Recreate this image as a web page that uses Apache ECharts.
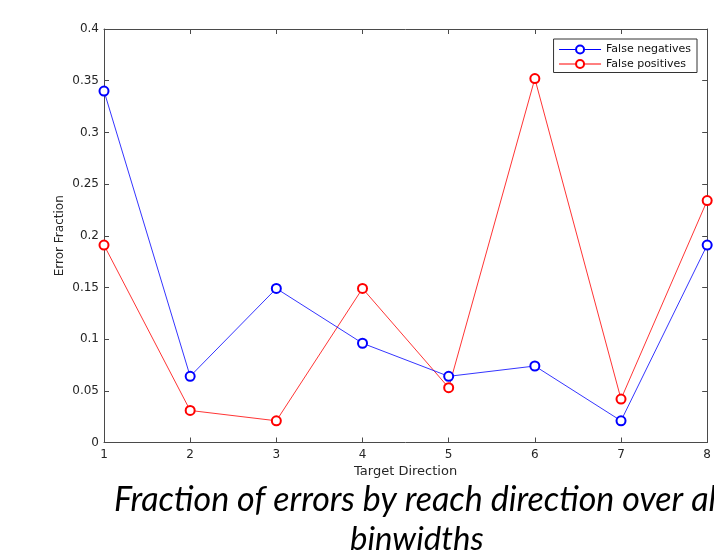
<!DOCTYPE html>
<html>
<head>
<meta charset="utf-8">
<script src="https://cdn.jsdelivr.net/npm/echarts@6/dist/echarts.min.js"></script>
<style>
  html, body { margin: 0; padding: 0; background: #fff; }
  #main { width: 714px; height: 554px; }
</style>
</head>
<body>
<div id="main"></div>
<script>
// target directions
const directions = [1, 2, 3, 4, 5, 6, 7, 8]
// error fractions
const falseNegatives = [0.340, 0.064, 0.149, 0.096, 0.064, 0.074, 0.021, 0.191]
const falsePositives = [0.191, 0.031, 0.021, 0.149, 0.053, 0.352, 0.042, 0.234]
const yTicks = [0, 0.05, 0.1, 0.15, 0.2, 0.25, 0.3, 0.35, 0.4]

const chart = echarts.init(document.getElementById('main'), null, { renderer: 'canvas' })

const axisColor = '#4a4a4a'
const labelColor = '#262626'
const font = 'DejaVu Sans'

const pairs = (vals) => directions.map((d, i) => [d, vals[i]])

// bottom/left axes carry labels, top/right only ticks (box look)
const option = {
  backgroundColor: '#ffffff',
  animation: false,
  grid: { left: 104, top: 29, width: 607, height: 413.5, containLabel: false },
  xAxis: [{
    type: 'value', min: 1, max: 8, interval: 1,
    name: 'Target Direction', nameLocation: 'middle', nameGap: 21,
    nameTextStyle: { fontFamily: font, fontSize: 13, color: labelColor },
    axisLine: { show: true, lineStyle: { color: axisColor, width: 1 } },
    axisTick: { show: true, inside: true, length: 5, lineStyle: { color: axisColor } },
    axisLabel: { fontFamily: font, fontSize: 12, color: labelColor, margin: 6 },
    splitLine: { show: false }
  }, {
    type: 'value', min: 1, max: 8, interval: 1, position: 'top',
    axisLine: { show: true, onZero: false, lineStyle: { color: axisColor, width: 1 } },
    axisTick: { show: true, inside: true, length: 5, lineStyle: { color: axisColor } },
    axisLabel: { show: false },
    splitLine: { show: false }
  }],
  yAxis: [{
    type: 'value', min: 0, max: 0.4, interval: 0.05,
    name: 'Error Fraction', nameLocation: 'middle', nameGap: 38, nameRotate: 90,
    nameMoveOverlap: false,
    nameTextStyle: { fontFamily: font, fontSize: 12, color: labelColor },
    axisLine: { show: true, lineStyle: { color: axisColor, width: 1 } },
    axisTick: { show: true, inside: true, length: 5, lineStyle: { color: axisColor } },
    axisLabel: { fontFamily: font, fontSize: 12, color: labelColor, margin: 5,
      formatter: (v) => yTicks.indexOf(+v.toFixed(2)) >= 0 ? String(+v.toFixed(2)) : '' },
    splitLine: { show: false }
  }, {
    type: 'value', min: 0, max: 0.4, interval: 0.05, position: 'right',
    axisLine: { show: true, onZero: false, lineStyle: { color: axisColor, width: 1 } },
    axisTick: { show: true, inside: true, length: 5, lineStyle: { color: axisColor } },
    axisLabel: { show: false },
    splitLine: { show: false }
  }],
  legend: {
    right: 17, top: 39, orient: 'vertical',
    itemWidth: 42, itemHeight: 10, itemGap: 3.5,
    padding: [5, 6, 3, 5],
    backgroundColor: '#fff', borderColor: '#333', borderWidth: 1, borderRadius: 0,
    lineStyle: { width: 1 },
    itemStyle: { borderWidth: 1.4 },
    textStyle: { fontFamily: font, fontSize: 11, color: '#111' },
    data: ['False negatives', 'False positives']
  },
  series: [{
    name: 'False negatives', type: 'line',
    data: pairs(falseNegatives),
    symbol: 'emptyCircle', symbolSize: 9,
    lineStyle: { color: '#0000ff', width: 0.8 },
    itemStyle: { color: '#0000ff', borderColor: '#0000ff', borderWidth: 1.6 },
    z: 3
  }, {
    name: 'False positives', type: 'line',
    data: pairs(falsePositives),
    symbol: 'emptyCircle', symbolSize: 9,
    lineStyle: { color: '#ff0000', width: 0.8 },
    itemStyle: { color: '#ff0000', borderColor: '#ff0000', borderWidth: 1.6 },
    z: 2
  }],
  graphic: [{
    type: 'text', left: 114, top: 483,
    style: { text: 'Fraction of errors by reach direction over all', fill: '#000',
      font: 'italic 34px Lato' }
  }, {
    type: 'text', left: 350, top: 523,
    style: { text: 'binwidths', fill: '#000', font: 'italic 33px Lato' }
  }]
}

chart.setOption(option)
</script>
</body>
</html>
